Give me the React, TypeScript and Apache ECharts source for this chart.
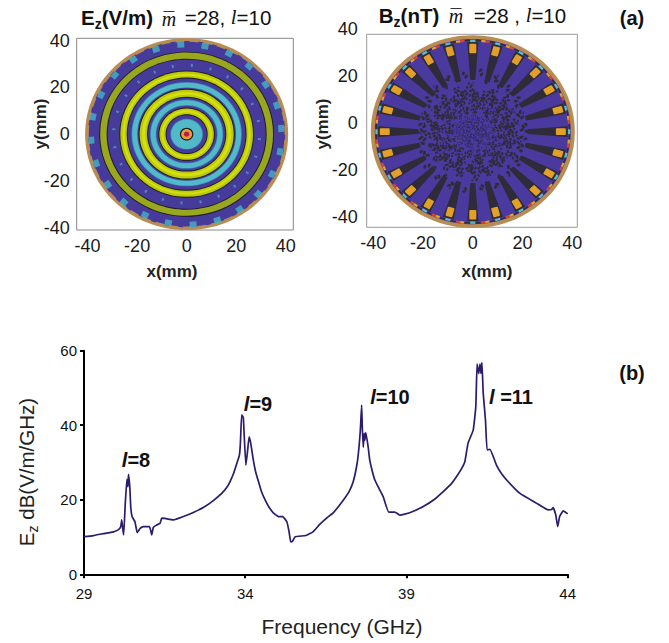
import React, { useEffect, useRef } from "react";
import * as echarts from "echarts";

const FONT = "Liberation Sans";
const SERIF = "Liberation Serif";

const fieldTicks = [-40, -20, 0, 20, 40];
const freqTicks = [29, 34, 39, 44];

// Ez map: bands drawn from the outside in (radius in mm, band)
const ezRadii = [41, 39.8, 35.3, 34.9, 32.3, 31.9, 27.2, 26.8, 25.8, 25, 24.2, 23.8, 22.3, 22, 20, 19.8, 19.4, 19, 18, 16.8, 16, 15.6, 14.8, 14.5, 12.5, 12.2, 11.4, 11, 10.2, 9.3, 8.5, 8.1, 6.6, 6.3, 2.7, 2.2, 1.1];
const ezBands = ["tan", "blue", "black", "olive", "black", "blue", "black", "yellow", "bright", "yellow", "black", "blue", "mid", "cyan", "mid", "blue", "black", "yellow", "bright", "yellow", "black", "blue", "mid", "cyan", "mid", "blue", "black", "yellow", "bright", "yellow", "black", "blue", "mid", "cyan", "black", "orange", "red"];
const ezSquares = [[-2.4, 38.3], [7.4, 37.6], [17.1, 34.5], [25.2, 29.1], [31.9, 21.2], [36.4, 12.3], [38.2, 2.4], [37.7, -7.5], [34.5, -17.1], [28.8, -25.6], [21.4, -32.2], [12.4, -36.8], [2.6, -38.6], [-7.4, -37.9], [-16.8, -34.6], [-25.3, -29.1], [-31.8, -21.5], [-36.5, -12.5], [-38.5, -2.6], [-37.8, 7.4], [-34.5, 16.8], [-29, 25.2], [-21.5, 31.9], [-12.4, 36.3]];
const ezDots = [[2.1, 29.4], [9.6, 27.9], [16.5, 24.5], [22.3, 19.4], [26.5, 12.9], [29, 5.6], [29.4, -2.1], [27.9, -9.6], [24.5, -16.5], [19.4, -22.3], [12.9, -26.5], [5.6, -29], [-2.1, -29.4], [-9.6, -27.9], [-16.5, -24.5], [-22.3, -19.4], [-26.5, -12.9], [-29, -5.6], [-29.4, 2.1], [-27.9, 9.6], [-24.5, 16.5], [-19.4, 22.3], [-12.9, 26.5], [-5.6, 29]];

// Bz map
const bzSpokeAngles = [0, 15, 30, 45, 60, 75, 90, 105, 120, 135, 150, 165, 180, 195, 210, 225, 240, 255, 270, 285, 300, 315, 330, 345];
// central speckle: [angle in degrees, inner radius mm, outer radius mm, sideways kink in degrees]
const bzSpeckleFine = [[5, 1, 5, 9], [28, 2, 6, -14], [50, 1, 4, 11], [72, 2, 7, 8], [95, 1, 5, -12], [118, 2, 6, 15], [140, 1, 5, -9], [163, 2, 7, 10], [185, 1, 4, -13], [208, 2, 6, 9], [230, 1, 5, 14], [252, 2, 7, -8], [275, 1, 4, 12], [298, 2, 6, -15], [320, 1, 5, 9], [343, 2, 7, -11], [15, 4, 8, -9], [40, 5, 9, 12], [62, 4, 7, -14], [85, 5, 9, 7], [108, 4, 8, -10], [130, 5, 9, 13], [152, 4, 8, -7], [175, 5, 9, 11], [197, 4, 8, -13], [220, 5, 9, 8], [242, 4, 7, 12], [265, 5, 9, -9], [288, 4, 8, 14], [310, 5, 9, -8], [332, 4, 8, 10], [355, 5, 9, -12]];
const bzSpeckleMid = [[2, 8, 12, 7], [13, 9, 14, -9], [24, 8, 11, 11], [33, 10, 14, -6], [46, 8, 13, 8], [57, 9, 12, -11], [67, 10, 15, 6], [79, 8, 12, 10], [90, 9, 14, -8], [102, 8, 11, 12], [113, 10, 14, -7], [125, 8, 13, -10], [136, 9, 12, 9], [148, 10, 15, -6], [158, 8, 12, 11], [170, 9, 14, 7], [182, 8, 11, -12], [193, 10, 14, 8], [204, 8, 13, -9], [216, 9, 12, 10], [227, 10, 15, 6], [238, 8, 12, -11], [250, 9, 14, 8], [261, 8, 11, -7], [272, 10, 14, 10], [284, 8, 13, -8], [295, 9, 12, 12], [306, 10, 15, -6], [318, 8, 12, 9], [329, 9, 14, -10], [340, 8, 11, 7], [351, 10, 14, -9], [7, 11, 14, 10], [40, 11, 15, -8], [75, 12, 15, 7], [108, 12, 15, -9], [142, 11, 14, 8], [176, 12, 15, -7], [210, 11, 15, 9], [245, 12, 15, -8], [278, 11, 14, 7], [312, 12, 15, -9], [345, 11, 15, 8]];
const bzSpeckleWide = [[3, 13, 17, 6], [11, 14, 19, -8], [20, 13, 16, 7], [27, 15, 19, -5], [37, 13, 18, 9], [44, 16, 20, -6], [53, 13, 17, 7], [62, 15, 20, -9], [70, 14, 18, 5], [83, 13, 17, 8], [91, 15, 21, -6], [99, 14, 18, 7], [108, 16, 20, -5], [118, 13, 17, -8], [127, 15, 20, 6], [135, 13, 18, -7], [144, 16, 19, 9], [153, 13, 17, -5], [164, 15, 20, 7], [172, 14, 17, -9], [181, 15, 21, 6], [189, 13, 16, -7], [198, 15, 19, 8], [207, 13, 18, -5], [216, 16, 20, 7], [224, 14, 17, -8], [233, 15, 20, 5], [243, 13, 18, 9], [252, 16, 20, -6], [262, 14, 17, 8], [271, 15, 21, -7], [279, 13, 18, 6], [288, 16, 20, -8], [297, 14, 17, 5], [306, 15, 19, -9], [315, 13, 18, 7], [326, 16, 20, -6], [335, 13, 17, 8], [345, 15, 20, -7], [354, 14, 18, 6]];
const bzSpeckleOuter = [[1, 19, 23, 4], [8, 20, 22, -5], [16, 20, 24, 3], [23, 19, 22, -6], [31, 20, 25, 4], [38, 21, 24, -3], [46, 20, 25, 5], [53, 22, 25, -4], [61, 21, 26, 3], [68, 23, 26, -5], [75, 21, 27, 4], [83, 24, 27, -3], [90, 22, 28, 2], [98, 23, 26, -4], [106, 22, 27, 3], [113, 24, 26, 5], [120, 21, 26, -3], [128, 22, 25, 5], [135, 20, 25, -4], [142, 21, 24, 3], [150, 20, 24, -5], [158, 19, 22, 6], [165, 20, 24, -3], [172, 19, 22, 4], [180, 20, 23, -5], [188, 19, 22, 4], [195, 20, 24, -3], [203, 21, 23, 5], [210, 20, 25, -4], [218, 22, 25, 3], [226, 21, 26, -5], [233, 23, 25, 4], [240, 21, 26, -3], [248, 23, 26, 5], [255, 22, 27, -4], [262, 24, 26, 3], [270, 22, 28, -2], [278, 23, 25, 4], [285, 22, 27, -3], [292, 24, 26, 5], [300, 21, 26, -4], [308, 22, 24, 3], [315, 20, 25, -5], [323, 21, 24, 4], [330, 20, 24, -3], [338, 19, 22, 5], [345, 20, 24, -4], [352, 19, 22, 3]];

// Ez spectrum
const freq = [29, 29.29, 29.6, 29.91, 30.07, 30.14, 30.17, 30.2, 30.23, 30.28, 30.33, 30.36, 30.38, 30.42, 30.45, 30.49, 30.58, 30.65, 30.74, 30.84, 31.03, 31.1, 31.15, 31.25, 31.36, 31.41, 31.51, 31.77, 32.08, 32.39, 32.7, 33, 33.27, 33.42, 33.53, 33.64, 33.74, 33.82, 33.85, 33.89, 33.94, 33.97, 34.02, 34.07, 34.12, 34.17, 34.25, 34.32, 34.41, 34.5, 34.62, 34.74, 34.87, 35.03, 35.16, 35.29, 35.36, 35.41, 35.46, 35.55, 35.88, 36.1, 36.31, 36.55, 36.72, 37.04, 37.22, 37.35, 37.47, 37.53, 37.57, 37.61, 37.63, 37.66, 37.69, 37.71, 37.74, 37.81, 37.86, 37.93, 38.02, 38.15, 38.28, 38.45, 38.64, 38.79, 39.1, 39.52, 39.85, 40.14, 40.38, 40.55, 40.7, 40.81, 40.91, 41.07, 41.15, 41.19, 41.24, 41.28, 41.31, 41.34, 41.38, 41.45, 41.5, 41.59, 41.79, 41.95, 42.15, 42.52, 43.03, 43.39, 43.5, 43.55, 43.63, 43.69, 43.75, 43.86, 44];
const ezDb = [10.1, 10.4, 10.9, 11.4, 12, 12.8, 14.6, 12.3, 10.55, 19, 25.5, 23.5, 26.8, 23.4, 18, 15.5, 14.1, 11.2, 12.3, 12.8, 12.8, 10.6, 12.6, 13.2, 13.7, 15.1, 15, 14.6, 15.5, 16.6, 17.9, 19.7, 21.7, 23.2, 24.9, 27.1, 29.8, 32, 35.2, 42.8, 42.1, 36.9, 29.3, 32.9, 36.9, 35.2, 30.7, 27.6, 24.9, 22.3, 19.9, 18, 16.5, 15.5, 15.5, 14.1, 11.4, 8.7, 8.8, 10.1, 10.4, 11.4, 13.4, 15.3, 16.4, 19.9, 22.2, 24.9, 29.8, 34.3, 38.7, 45.4, 39.6, 34.1, 37.8, 36, 38, 34.3, 30.7, 28, 25.3, 23, 20.8, 16.7, 16.7, 15.9, 16.5, 18.2, 20, 22.2, 24.2, 26.2, 28.2, 30.2, 35.2, 38.7, 45, 56.4, 53.9, 56.4, 53.9, 56.8, 48.6, 41.4, 33.4, 33.5, 29.3, 27, 24.9, 21.7, 19.1, 17.3, 17.4, 17.9, 15.9, 12.8, 15.5, 17, 16.2];
const modeLabels = ["=8", "=9", "=10", " =11"];

const palette: Record<string, string> = {
  tan: "#b98d52", blue: "#463b9b", black: "#1f1d20", olive: "#98a71d", yellow: "#b9cc0a",
  bright: "#d8de12", mid: "#3f86b6", cyan: "#52b9c8", orange: "#e3a22a", red: "#c9125f",
};
const bzBlue = "#4a3a9f";
const bzDark = "#2f2b38";
const LINE = "#2c1a6c";

const toXY = (a: number, r: number): number[] => {
  const t = (a * Math.PI) / 180;
  return [r * Math.cos(t), r * Math.sin(t)];
};

function ellipseRender(fill: (v: number) => string, stroke?: any) {
  return (_p: any, api: any) => {
    const c = api.coord([0, 0]);
    const r = api.value(0);
    const e = api.coord([r, r]);
    return {
      type: "ellipse",
      shape: { cx: c[0], cy: c[1], rx: Math.abs(e[0] - c[0]), ry: Math.abs(e[1] - c[1]) },
      style: stroke ? stroke : { fill: fill(_p.dataIndex) },
    };
  };
}

function polyRender(points: (api: any) => number[][], style: (api: any, p: any) => any, closed: boolean) {
  return (p: any, api: any) => ({
    type: closed ? "polygon" : "polyline",
    shape: { points: points(api).map((q) => api.coord(q)) },
    style: style(api, p),
  });
}

function speckle(data: number[][], idx: number, width: number, color: string, turn: number, dash: number[]) {
  return {
    type: "custom",
    xAxisIndex: idx,
    yAxisIndex: idx,
    data,
    silent: true,
    renderItem: polyRender(
      (api) => {
        const a = api.value(0) + turn;
        const r0 = api.value(1);
        const r1 = api.value(2);
        const k = api.value(3) * 0.6;
        return [toXY(a, r0), toXY(a + k, (2 * r0 + r1) / 3), toXY(a - k / 2, (r0 + 2 * r1) / 3), toXY(a + k / 2, r1)];
      },
      () => ({ stroke: color, lineWidth: width, fill: "none", lineJoin: "bevel", lineDash: dash }),
      false,
    ),
  };
}

function fieldAxis(extra: any, ticks: number[]) {
  return {
    type: "value",
    splitLine: { show: false },
    axisLine: { show: false },
    axisTick: { show: true, length: 4, customValues: ticks, lineStyle: { color: "#444", width: 1 } },
    ...extra,
    axisLabel: { color: "#1a1a1a", fontFamily: FONT, fontSize: 18, customValues: ticks, hideOverlap: false, ...extra.axisLabel },
  };
}

const txt = (x: number, y: number, style: any, rotation = 0) => ({
  type: "text",
  x,
  y,
  rotation,
  silent: true,
  style: { fontFamily: FONT, fill: "#111", align: "center", verticalAlign: "middle", ...style },
});

const modeRich = {
  i: { fontFamily: FONT, fontStyle: "italic", fontWeight: "bold", fontSize: 20, fill: "#111" },
  b: { fontFamily: FONT, fontWeight: "bold", fontSize: 20, fill: "#111" },
};

export default function App() {
  const ref = useRef<HTMLDivElement>(null);
  useEffect(() => {
    document.body.style.margin = "0";
    document.body.style.background = "#fff";
    const chart = echarts.init(ref.current!, undefined, { renderer: "svg" });

    const edgeRows: number[][] = [];
    bzSpokeAngles.forEach((a) => {
      edgeRows.push([a - 1.6, a + 1.6, 38.7, 0]);
      edgeRows.push([a + 5, a + 7.5, 38.8, 1]);
      edgeRows.push([a + 7.5, a + 10, 38.8, 2]);
      edgeRows.push([a - 5, a - 1.6, 38.9, 3]);
      edgeRows.push([a + 1.6, a + 4.6, 38.9, 3]);
    });
    const edgeColors = ["#58c0c0", "#d9452f", "#e3a22a", bzDark];
    const subRich = { fontFamily: FONT, fontSize: 14, verticalAlign: "bottom", padding: [13, 0, 0, 0] };

    chart.setOption({
      animation: false,
      backgroundColor: "#fff",
      grid: [
        { left: 76.7, top: 38.3, width: 216.6, height: 191.7, show: true, borderColor: "#888", borderWidth: 1, backgroundColor: "#fff" },
        { left: 366.7, top: 34.3, width: 210.6, height: 193, show: true, borderColor: "#999", borderWidth: 1, backgroundColor: "#fff" },
        { left: 84, top: 350.7, width: 483.7, height: 223.6 },
      ],
      xAxis: [
        fieldAxis({ gridIndex: 0, min: -44.4, max: 43.07, axisLabel: { margin: 7 } }, fieldTicks),
        fieldAxis({ gridIndex: 1, min: -42.65, max: 42, axisLabel: { margin: 7 } }, fieldTicks),
        {
          type: "value", gridIndex: 2, min: 29, max: 44, splitLine: { show: false },
          axisLine: { show: true, lineStyle: { color: "#000", width: 2 } },
          axisTick: { show: true, length: 4, customValues: freqTicks, lineStyle: { color: "#000", width: 2 } },
          axisLabel: { fontFamily: FONT, fontSize: 15, color: "#111", margin: 12, customValues: freqTicks },
        },
      ],
      yAxis: [
        fieldAxis({ gridIndex: 0, min: -41, max: 41, axisLabel: { margin: 7 } }, fieldTicks),
        fieldAxis({ gridIndex: 1, min: -40.7, max: 41.45, axisLabel: { margin: 9, verticalAlign: "bottom" } }, fieldTicks),
        {
          type: "value", gridIndex: 2, min: 0, max: 60, interval: 20, splitLine: { show: false },
          axisLine: { show: true, lineStyle: { color: "#000", width: 2 } },
          axisTick: { show: true, length: 4, lineStyle: { color: "#000", width: 2 } },
          axisLabel: { fontFamily: FONT, fontSize: 15, color: "#111", margin: 7 },
        },
      ],
      series: [
        // Ez map
        {
          type: "custom", xAxisIndex: 0, yAxisIndex: 0, silent: true,
          data: ezRadii.map((r) => [r]),
          renderItem: ellipseRender((i) => palette[ezBands[i]]),
        },
        {
          type: "custom", xAxisIndex: 0, yAxisIndex: 0, silent: true,
          data: [[40]],
          renderItem: ellipseRender(() => "", { fill: "none", stroke: palette.tan, lineWidth: 2.4, lineDash: [9, 5] }),
        },
        {
          type: "scatter", xAxisIndex: 0, yAxisIndex: 0, silent: true, data: ezDots,
          symbol: "rect", symbolSize: [3, 2], itemStyle: { color: "#4f9cc4" },
          symbolRotate: (v: number[]) => (Math.atan2(v[1], v[0]) * 180) / Math.PI,
        },
        {
          type: "scatter", xAxisIndex: 0, yAxisIndex: 0, silent: true, data: ezSquares,
          symbol: "rect", symbolSize: [6, 7], itemStyle: { color: "#45b3c6" },
          symbolRotate: (v: number[]) => (Math.atan2(v[1], v[0]) * 180) / Math.PI,
        },
        // Bz map
        {
          type: "custom", xAxisIndex: 1, yAxisIndex: 1, silent: true,
          data: [[41], [39.4]],
          renderItem: ellipseRender((i) => [palette.tan, bzBlue][i]),
        },
        speckle(bzSpeckleFine, 1, 1, "#2f2a55", 0, [2, 1]),
        speckle(bzSpeckleFine, 1, 1, "#2f2a55", 7, [2, 1.5]),
        speckle(bzSpeckleMid, 1, 1.5, bzDark, 0, [3, 1.5]),
        speckle(bzSpeckleMid, 1, 1.5, bzDark, 5.5, [2, 2]),
        speckle(bzSpeckleWide, 1, 2, bzDark, 0, [4, 1.5]),
        speckle(bzSpeckleWide, 1, 2, bzDark, 4.5, [3, 2]),
        speckle(bzSpeckleOuter, 1, 2.6, bzDark, 0, [4, 2]),
        {
          type: "custom", xAxisIndex: 1, yAxisIndex: 1, silent: true,
          data: bzSpokeAngles.map((a) => [a]),
          renderItem: polyRender(
            (api) => {
              const a = api.value(0);
              return [toXY(a - 2.6, 22), toXY(a + 2.6, 22), toXY(a + 3.4, 38.2), toXY(a - 3.4, 38.2)];
            },
            () => ({ fill: bzDark }),
            true,
          ),
        },
        {
          type: "custom", xAxisIndex: 1, yAxisIndex: 1, silent: true,
          data: edgeRows,
          renderItem: polyRender(
            (api) => {
              const r = api.value(2);
              const a0 = api.value(0);
              const a1 = api.value(1);
              return [toXY(a0, r), toXY((a0 + a1) / 2, r), toXY(a1, r)];
            },
            (api) => ({ stroke: edgeColors[api.value(3)], lineWidth: api.value(3) === 3 ? 1.4 : 2.2, fill: "none" }),
            false,
          ),
        },
        {
          type: "custom", xAxisIndex: 1, yAxisIndex: 1, silent: true,
          data: bzSpokeAngles.map((a) => [a]),
          renderItem: polyRender(
            (api) => {
              const a = api.value(0);
              const t = (a * Math.PI) / 180;
              const nx = -Math.sin(t) * 1.0;
              const ny = Math.cos(t) * 1.0;
              const p0 = toXY(a, 33.8);
              const p1 = toXY(a, 37);
              return [[p0[0] + nx, p0[1] + ny], [p0[0] - nx, p0[1] - ny], [p1[0] - nx, p1[1] - ny], [p1[0] + nx, p1[1] + ny]];
            },
            () => ({ fill: "#e3a029", stroke: "#e3a029", lineWidth: 2, lineJoin: "round" }),
            true,
          ),
        },
        // spectrum
        {
          type: "line", xAxisIndex: 2, yAxisIndex: 2, showSymbol: false, symbol: "none", smooth: 0.12,
          lineStyle: { color: LINE, width: 1.7 }, data: freq.map((f, i) => [f, ezDb[i]]),
        },
      ],
      graphic: [
        txt(117, 17, {
          text: "{b|E}{s|z}{b|(V/m)}",
          rich: {
            b: { fontFamily: FONT, fontWeight: "bold", fontSize: 20.5, fill: "#111" },
            s: { ...subRich, fontWeight: "bold", fill: "#111" },
          },
        }),
        txt(169, 19, { text: "m", fontFamily: SERIF, fontStyle: "italic", fontSize: 20 }),
        { type: "line", silent: true, shape: { x1: 163.5, y1: 11.5, x2: 174.5, y2: 11.5 }, style: { stroke: "#333", lineWidth: 1 } },
        txt(228, 17, {
          text: "=28, {i|l}=10",
          fontSize: 20.5,
          rich: { i: { fontFamily: SERIF, fontStyle: "italic", fontSize: 20.5, fill: "#111" } },
        }),
        txt(409, 15, {
          text: "{b|B}{s|z}{b|(nT)}",
          rich: {
            b: { fontFamily: FONT, fontWeight: "bold", fontSize: 20.5, fill: "#111" },
            s: { ...subRich, fontWeight: "bold", fill: "#111" },
          },
        }),
        txt(456, 16, { text: "m", fontFamily: SERIF, fontStyle: "italic", fontSize: 20 }),
        { type: "line", silent: true, shape: { x1: 450.5, y1: 8.5, x2: 461.5, y2: 8.5 }, style: { stroke: "#333", lineWidth: 1 } },
        txt(520, 15, {
          text: "=28 , {i|l}=10",
          fontSize: 20.5,
          rich: { i: { fontFamily: SERIF, fontStyle: "italic", fontSize: 20.5, fill: "#111" } },
        }),
        txt(172, 271, { text: "x(mm)", fontWeight: "bold", fontSize: 17, fill: "#222" }),
        txt(40, 124, { text: "y(mm)", fontWeight: "bold", fontSize: 17, fill: "#222" }, Math.PI / 2),
        txt(487, 271, { text: "x(mm)", fontWeight: "bold", fontSize: 17, fill: "#222" }),
        txt(322, 124, { text: "y(mm)", fontWeight: "bold", fontSize: 17, fill: "#222" }, Math.PI / 2),
        txt(632, 18, { text: "(a)", fontWeight: "bold", fontSize: 20 }),
        txt(632, 373, { text: "(b)", fontWeight: "bold", fontSize: 20 }),
        txt(136, 460, { text: "{i|l}{b|" + modeLabels[0] + "}", rich: modeRich }),
        txt(258, 404, { text: "{i|l}{b|" + modeLabels[1] + "}", rich: modeRich }),
        txt(390, 397, { text: "{i|l}{b|" + modeLabels[2] + "}", rich: modeRich }),
        txt(511, 397, { text: "{i|l}{b|" + modeLabels[3] + "}", rich: modeRich }),
        txt(342, 626, { text: "Frequency (GHz)", fontSize: 21, fill: "#222" }),
        txt(26, 472, {
          text: "{n|E}{s|z}{n| dB(V/m/GHz)}",
          rich: {
            n: { fontFamily: FONT, fontSize: 20.5, fill: "#222" },
            s: { ...subRich, fill: "#222" },
          },
        }, Math.PI / 2),
      ],
    });
    return () => chart.dispose();
  }, []);
  return <div ref={ref} style={{ position: "absolute", left: 0, top: 0, width: 669, height: 643 }} />;
}
